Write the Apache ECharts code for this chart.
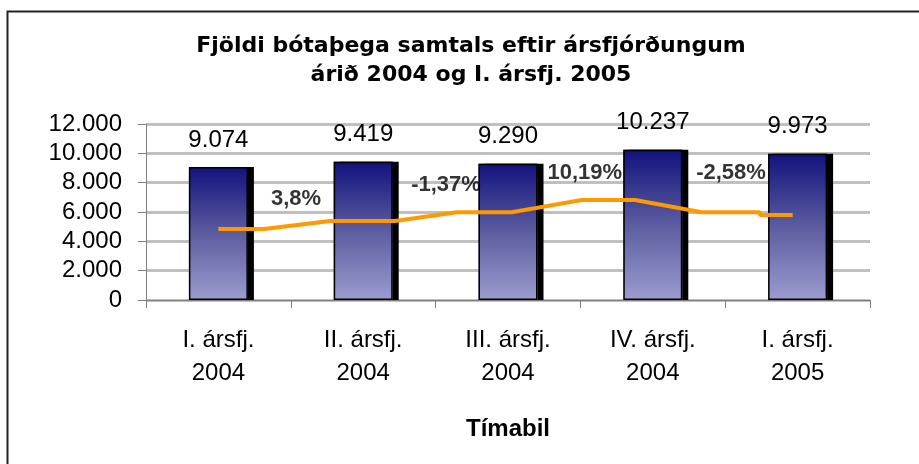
<!DOCTYPE html>
<html>
<head>
<meta charset="utf-8">
<script src="https://cdn.jsdelivr.net/npm/echarts@6/dist/echarts.min.js"></script>
<style>html,body{margin:0;padding:0;background:#fff}#c{width:919px;height:464px}</style>
</head>
<body>
<div id="c"></div>
<script>
const categories = ['I. ársfj.\n2004', 'II. ársfj.\n2004', 'III. ársfj.\n2004', 'IV. ársfj.\n2004', 'I. ársfj.\n2005'];
const barValues = [9074, 9419, 9290, 10237, 9973];
// orange line, x in category units (0 = first category centre)
const lineX = [0, 0.315, 0.77, 1.22, 1.647, 2.026, 2.509, 2.877, 3.338, 3.74, 3.74, 3.966];
const lineY = [4841, 4841, 5386, 5386, 5979, 5979, 6818, 6818, 5979, 5979, 5795, 5795];
const pctLabels = ['3,8%', '-1,37%', '10,19%', '-2,58%'];
const pctX = [0.536, 1.572, 2.53, 3.54];
const pctY = [6886, 7861, 8673, 8670];
const yTicks = [0, 2000, 4000, 6000, 8000, 10000, 12000];

function fmt(v) { return String(v).replace(/\B(?=(\d{3})+(?!\d))/g, '.'); }

const chart = echarts.init(document.getElementById('c'), null, {renderer: 'canvas'});
chart.setOption({
  animation: false,
  backgroundColor: '#fff',
  graphic: [{
    type: 'rect', silent: true, z: -1,
    shape: {x: 7.5, y: 11.5, width: 1000, height: 1000},
    style: {fill: 'none', stroke: '#222', lineWidth: 2}
  }],
  title: {
    text: 'Fjöldi bótaþega samtals eftir ársfjórðungum\nárið 2004 og I. ársfj. 2005',
    left: 466, top: 27, textAlign: 'center',
    textStyle: {fontFamily: 'DejaVu Sans', fontWeight: 'bold', fontSize: 22, lineHeight: 29, color: '#000'}
  },
  grid: {left: 146, right: 49, top: 124, bottom: 164},
  xAxis: [{
    type: 'category', data: categories,
    axisLine: {onZero: false, lineStyle: {color: '#808080', width: 1}},
    axisTick: {show: true, length: 8, alignWithLabel: false, lineStyle: {color: '#808080'}},
    axisLabel: {fontFamily: 'Liberation Sans, Arial', fontSize: 24, lineHeight: 33, color: '#000', margin: 24, interval: 0},
    name: 'Tímabil', nameLocation: 'middle', nameGap: 117,
    nameTextStyle: {fontFamily: 'Liberation Sans, Arial', fontWeight: 'bold', fontSize: 24, color: '#000'}
  }, {
    type: 'value', min: -0.5, max: 4.5, show: false, axisLine: {onZero: false}
  }],
  yAxis: {
    type: 'value', min: 0, max: 12000, interval: 2000,
    axisLine: {show: true, onZero: false, lineStyle: {color: '#808080', width: 1}},
    axisTick: {show: true, length: 8, lineStyle: {color: '#808080'}},
    axisLabel: {fontFamily: 'Liberation Sans, Arial', fontSize: 24, color: '#000', margin: 24,
      formatter: v => fmt(v)},
    splitLine: {show: true, lineStyle: {color: '#c0c0c0', width: 3}}
  },
  series: [{
    type: 'bar', data: barValues, barWidth: 59, z: 2,
    itemStyle: {
      color: new echarts.graphic.LinearGradient(0, 0, 0, 1, [
        {offset: 0, color: '#12127e'}, {offset: 0.5, color: '#5c5ca0'}, {offset: 1, color: '#9c9cd0'}
      ]),
      borderWidth: 0,
      shadowColor: '#000', shadowOffsetX: 6, shadowOffsetY: 0, shadowBlur: 0
    },
    label: {show: true, position: 'top', distance: 15, fontFamily: 'Liberation Sans, Arial', fontSize: 24, color: '#000',
      formatter: p => fmt(p.value)}
  }, {
    type: 'bar', data: barValues, barWidth: 59, barGap: '-100%', z: 3, silent: true,
    itemStyle: {color: 'rgba(0,0,0,0)', borderColor: '#000', borderWidth: 1.5}
  }, {
    type: 'line', xAxisIndex: 1, z: 4,
    data: lineX.map((x, i) => [x, lineY[i]]),
    symbol: 'none', lineStyle: {color: '#ff9900', width: 4}
  }, {
    type: 'scatter', xAxisIndex: 1, z: 5, symbolSize: 1, itemStyle: {color: 'rgba(0,0,0,0)'},
    data: pctX.map((x, i) => ({value: [x, pctY[i]], name: pctLabels[i]})),
    label: {show: true, position: 'inside', formatter: p => p.name,
      fontFamily: 'Liberation Sans, Arial', fontWeight: 'bold', fontSize: 22, color: '#000'}
  }]
});
</script>
</body>
</html>
